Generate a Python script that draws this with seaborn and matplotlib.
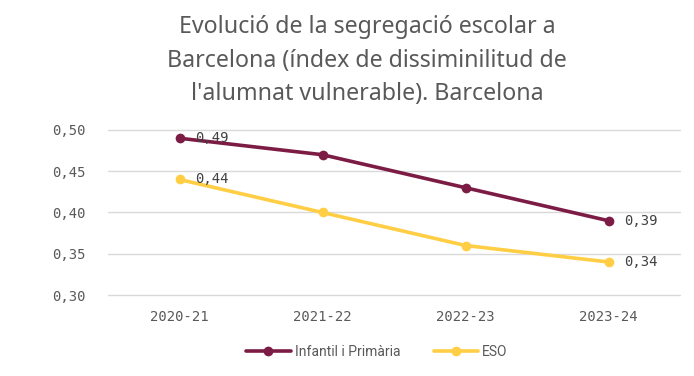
import matplotlib
matplotlib.use("Agg")
import matplotlib.pyplot as plt
import pandas as pd
import seaborn as sns

cursos = ["2020-21", "2021-22", "2022-23", "2023-24"]
infantil_primaria = [0.49, 0.47, 0.43, 0.39]
eso = [0.44, 0.40, 0.36, 0.34]
series_names = ["Infantil i Primària", "ESO"]
colors = ["#7C1C45", "#FFCE44"]
title = ("Evolució de la segregació escolar a\n"
         "Barcelona (índex de dissiminilitud de\n"
         "l'alumnat vulnerable). Barcelona")

sns.set_theme(style="white")
plt.rcParams["font.family"] = ["Roboto", "DejaVu Sans"]

df = pd.DataFrame({
    "curs": cursos * 2,
    "valor": infantil_primaria + eso,
    "serie": [series_names[0]] * 4 + [series_names[1]] * 4,
})

fig = plt.figure(figsize=(6.94, 3.76), dpi=100)
ax = fig.add_axes([0.1556, 0.2154, 0.8244, 0.4389])

sns.lineplot(data=df, x="curs", y="valor", hue="serie", palette=colors,
             marker="o", markersize=7, markeredgewidth=0, linewidth=2.6,
             ax=ax, clip_on=False, sort=False)

ax.set_xlim(-0.5, 3.5)
ax.set_ylim(0.30, 0.50)
ax.set_yticks([0.30, 0.35, 0.40, 0.45, 0.50])
ax.set_yticklabels([f"{v:.2f}".replace(".", ",") for v in ax.get_yticks()],
                   family="DejaVu Sans Mono")
for lab in ax.get_xticklabels():
    lab.set_family("DejaVu Sans Mono")
ax.tick_params(axis="both", length=0, labelsize=10, labelcolor="#595959")
ax.tick_params(axis="y", pad=16)
ax.tick_params(axis="x", pad=11)
ax.grid(axis="y", color="#D9D9D9", linewidth=1)
for gl in ax.get_ygridlines():
    gl.set_clip_on(False)
ax.set_axisbelow(True)
for s in ax.spines.values():
    s.set_visible(False)
ax.set_xlabel("")
ax.set_ylabel("")

# data labels: first and last points
for vals in (infantil_primaria, eso):
    for i in (0, len(cursos) - 1):
        ax.annotate(f"{vals[i]:.2f}".replace(".", ","), (i, vals[i]),
                    xytext=(11, 0), textcoords="offset points",
                    ha="left", va="center", fontsize=10, color="#404040",
                    family="DejaVu Sans Mono")

fig.suptitle(title, x=0.529, y=0.961, fontsize=16.7, color="#595959",
             linespacing=1.55, family=["Noto Sans", "DejaVu Sans"])

ax.legend(loc="center", bbox_to_anchor=(0.47, -0.345), ncol=2, frameon=False,
          fontsize=10, handlelength=3.2, columnspacing=2.4, handletextpad=0.3,
          labelcolor="#595959")

fig.savefig("out.png", dpi=100)
